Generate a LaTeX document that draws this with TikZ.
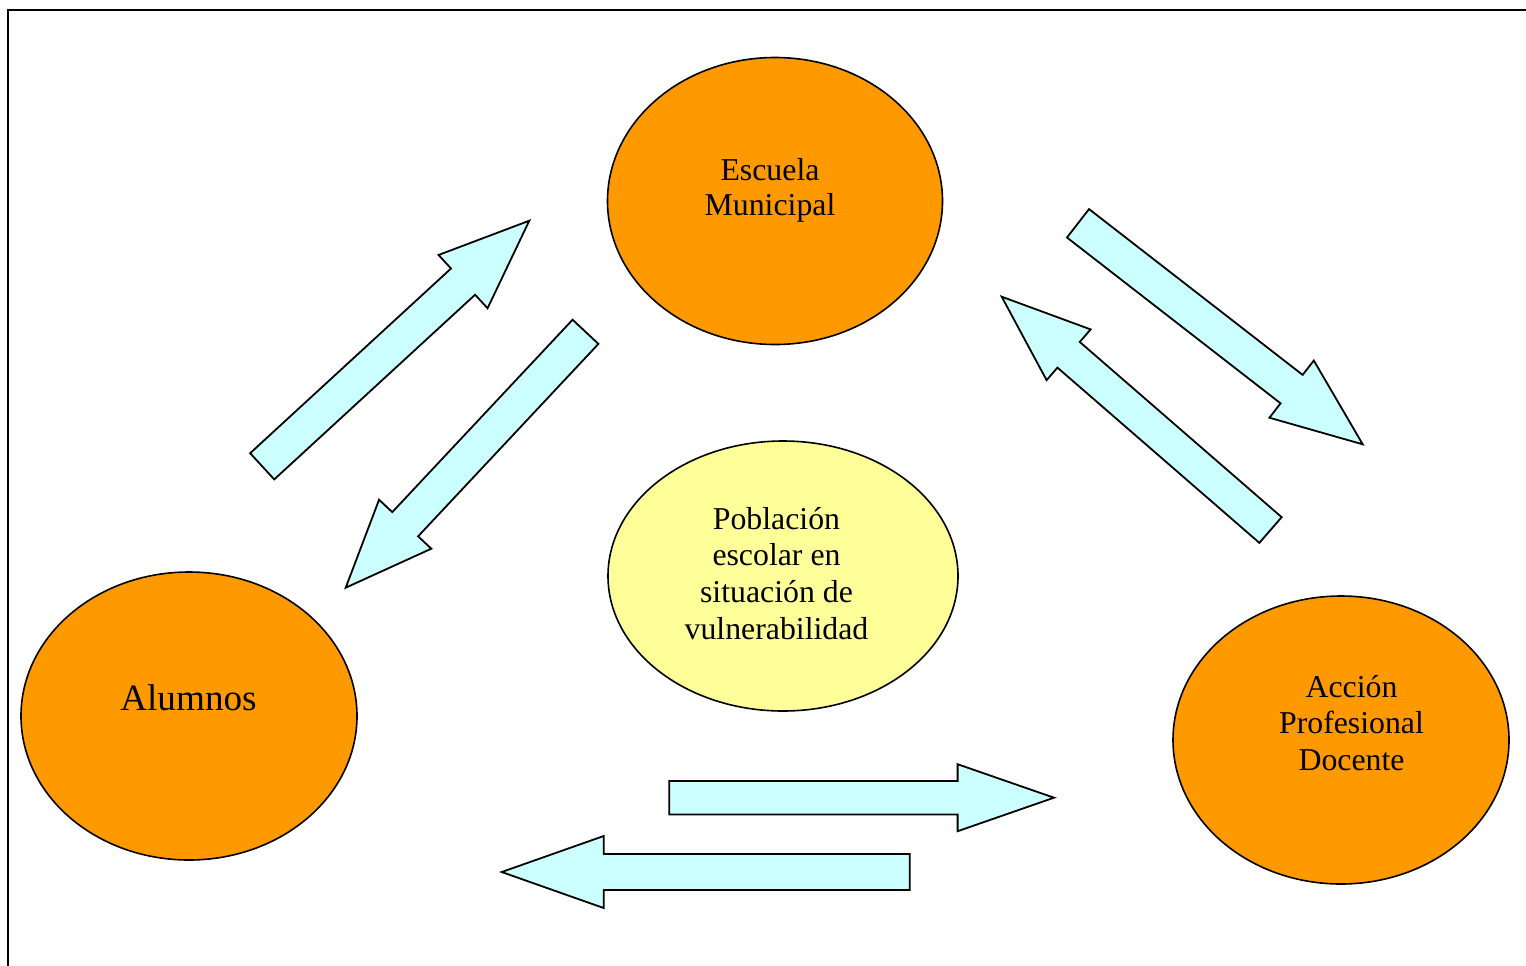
\documentclass[tikz,border=0pt]{standalone}
\usepackage{fontspec}
\setmainfont{Liberation Serif}
\usetikzlibrary{calc}
\usetikzlibrary{shapes.geometric}
\definecolor{naranja}{HTML}{FF9900}
\definecolor{amarillo}{HTML}{FFFF99}
\definecolor{celeste}{HTML}{CCFFFF}
\tikzset{
  burbuja/.style={ellipse, draw=black, line width=.8pt, inner sep=0pt, minimum width=168pt, minimum height=144pt},
  texto/.style={align=center, font=\fontsize{15.9}{18.3}\selectfont},
  flechabox/.style={draw=black, fill=celeste, line width=.9pt}
}
\newcommand{\flecha}[5]{%
  \coordinate (fb) at ($(#2)!#5!(#1)$);
  \draw[flechabox] ($(#1)!#3!90:(#2)$) -- ($(fb)!#3!90:(#2)$) -- ($(fb)!#4!90:(#2)$) -- (#2)
    -- ($(fb)!#4!-90:(#2)$) -- ($(fb)!#3!-90:(#2)$) -- ($(#1)!#3!-90:(#2)$) -- cycle;
}

\begin{document}
\begin{tikzpicture}[x=.5pt, y=-.5pt]
\clip (0,0) rectangle (1526,965);
\draw[line width=1.2pt] (8,975) -- (8,10) -- (1535,10);

\node[burbuja, fill=naranja, minimum width=167.5pt, minimum height=143.5pt] (escuela) at (775,201) {};
\node[texto, font=\fontsize{15.9}{17.5}\selectfont] (tescuela) at (770,190) {Escuela\\Municipal};
\node[burbuja, fill=amarillo, minimum width=175pt, minimum height=135pt] (poblacion) at (783,576) {};
\node[texto] (tpoblacion) at (776.5,573.2) {Población\\escolar en\\situación de\\vulnerabilidad};
\node[burbuja, fill=naranja] (alumnos) at (189,716) {};
\node[texto, font=\fontsize{18.6}{22}\selectfont] (talumnos) at (188.5,697.3) {Alumnos};
\node[burbuja, fill=naranja] (accion) at (1341,740) {};
\node[texto] (taccion) at (1351.5,723) {Acción\\Profesional\\Docente};

\coordinate (a1s) at (262.2,466.3); \coordinate (a1e) at (529.3,220.7);
\coordinate (a2s) at (585.5,331.8); \coordinate (a2e) at (345.7,587.7);
\coordinate (a3s) at (1078,223.3);  \coordinate (a3e) at (1362.7,444.3);
\coordinate (a4s) at (1270.5,530);  \coordinate (a4e) at (1001.7,296.7);
\coordinate (a5s) at (669.3,797.7); \coordinate (a5e) at (1054,797.7);
\coordinate (a6s) at (909.7,872);   \coordinate (a6e) at (501.7,872);
\foreach \s/\e/\w/\h/\l in {a1s/a1e/8.9pt/18.1pt/45pt, a2s/a2e/8.85pt/17.9pt/43.5pt,
  a3s/a3e/9pt/18.1pt/45pt, a4s/a4e/8.5pt/16.8pt/44.3pt,
  a5s/a5e/8.35pt/16.75pt/48.2pt, a6s/a6e/9pt/18pt/51pt} {
 \flecha{\s}{\e}{\w}{\h}{\l}
}
\end{tikzpicture}
\end{document}
